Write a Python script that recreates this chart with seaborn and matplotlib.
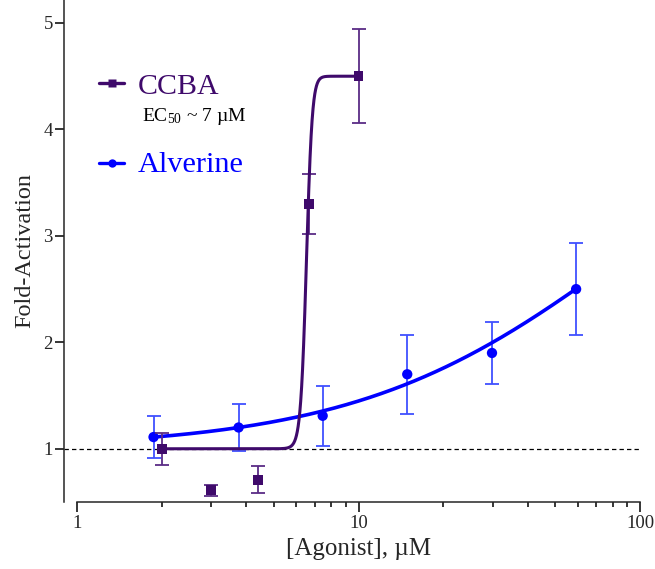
import numpy as np
import pandas as pd
import matplotlib
matplotlib.use("Agg")
import matplotlib.pyplot as plt
import seaborn as sns
from matplotlib.lines import Line2D
from matplotlib.ticker import LogLocator, NullFormatter

# ---------------- data ----------------
ccba_x = [2.0, 3.0, 4.4, 6.65, 10.0]
ccba_y = [1.0, 0.61, 0.71, 3.30, 4.50]
ccba_err = [0.15, 0.05, 0.125, 0.28, 0.44]

alv_x = [1.87, 3.75, 7.46, 14.9, 29.8, 59.3]
alv_y = [1.11, 1.20, 1.31, 1.70, 1.90, 2.50]
alv_err = [0.20, 0.22, 0.28, 0.37, 0.29, 0.43]

# fitted-curve parameters
ccba_bottom, ccba_top, ccba_x50, ccba_width = 1.0, 4.5, 6.53, 0.155   # Boltzmann fit
alv_bottom, alv_top, alv_ec50, alv_hill = 1.0, 4.69, 90.0, 0.9         # Hill fit

x_ticks = [1, 10, 100]
x_tick_labels = ["1", "10", "100"]
y_ticks = [1, 2, 3, 4, 5]

purple = "#3f0a6b"
purple_err = "#5a2c86"
blue = "#0000ff"
blue_err = "#4050ff"

# ---------------- style ----------------
sns.set_style("ticks")
plt.rcParams["font.family"] = ["Liberation Serif", "DejaVu Serif"]
plt.rcParams["mathtext.fontset"] = "custom"
plt.rcParams["mathtext.rm"] = "Liberation Serif"
plt.rcParams["mathtext.it"] = "Liberation Serif:italic"

fig = plt.figure(figsize=(6.55, 5.69), dpi=100)
ax = fig.add_axes([77 / 655, 1 - 502 / 569, 563 / 655, 502 / 569])

# fitted curves
xa = np.geomspace(alv_x[0], alv_x[-1], 400)
ya = alv_bottom + (alv_top - alv_bottom) / (1 + (alv_ec50 / xa) ** alv_hill)
xc = np.linspace(ccba_x[0], ccba_x[-1], 1500)
yc = ccba_bottom + (ccba_top - ccba_bottom) / (1 + np.exp((ccba_x50 - xc) / ccba_width))

curve_a = pd.DataFrame({"x": xa, "y": ya})
curve_c = pd.DataFrame({"x": xc, "y": yc})
pts_a = pd.DataFrame({"x": alv_x, "y": alv_y, "e": alv_err})
pts_c = pd.DataFrame({"x": ccba_x, "y": ccba_y, "e": ccba_err})

# reference line at 1
ax.axhline(1.0, xmin=-13 / 563, xmax=1.0, clip_on=False, color="black",
           lw=0.9, dashes=(3.5, 2.5), zorder=1)

# Alverine
ax.errorbar(pts_a["x"], pts_a["y"], yerr=pts_a["e"], fmt="none", ecolor=blue_err,
            elinewidth=1.3, capsize=5, capthick=1.3, zorder=2)
sns.lineplot(data=curve_a, x="x", y="y", ax=ax, color=blue, lw=2.6, zorder=3,
             estimator=None, sort=False)
sns.scatterplot(data=pts_a, x="x", y="y", ax=ax, color=blue, marker="o", s=55,
                edgecolor="none", zorder=4)

# CCBA
ax.errorbar(pts_c["x"], pts_c["y"], yerr=pts_c["e"], fmt="none", ecolor=purple_err,
            elinewidth=1.3, capsize=5, capthick=1.3, zorder=5)
sns.lineplot(data=curve_c, x="x", y="y", ax=ax, color=purple, lw=2.2, zorder=6,
             estimator=None, sort=False)
sns.scatterplot(data=pts_c, x="x", y="y", ax=ax, color=purple, marker="s", s=50,
                edgecolor="none", zorder=7)

# axes
ax.set_xscale("log")
ax.set_xlim(1, 100)
ax.set_ylim(0.5, 5.216)
ax.set_xticks(x_ticks, labels=x_tick_labels)
ax.xaxis.set_minor_locator(LogLocator(base=10, subs=np.arange(2, 10)))
ax.xaxis.set_minor_formatter(NullFormatter())
ax.set_yticks(y_ticks)
ax.set_yticklabels([str(v) for v in y_ticks])

for s in ["top", "right"]:
    ax.spines[s].set_visible(False)
ax.spines["left"].set_position(("outward", 13 * 0.72))
ax.spines["left"].set_linewidth(1.1)
ax.spines["bottom"].set_linewidth(1.1)
ax.tick_params(axis="x", which="major", length=7.5, width=1.1, labelsize=13.5, pad=2, color="black")
ax.tick_params(axis="x", which="minor", length=3.8, width=1.1, color="black")
ax.tick_params(axis="y", which="major", length=6.5, width=1.1, labelsize=13.5, pad=1.5, color="black")

ax.set_xlabel("[Agonist], µM", fontsize=18, labelpad=4)
ax.set_ylabel("Fold-Activation", fontsize=17.5, labelpad=6)

# legend (drawn manually in axes coordinates)
W, H = 563.0, 502.0
def leg_entry(y_px, color, marker, ms, label, base_px, fs):
    ax.add_line(Line2D([22 / W, 47 / W], [1 - y_px / H] * 2, transform=ax.transAxes,
                       color=color, lw=2.4, marker=None, clip_on=False))
    ax.add_line(Line2D([34.5 / W], [1 - y_px / H], transform=ax.transAxes,
                       color=color, marker=marker, ms=ms, mec="none", clip_on=False))
    ax.text(61 / W, 1 - base_px / H, label, transform=ax.transAxes, color=color,
            fontsize=fs, va="baseline", ha="left")

leg_entry(83, purple, "s", 6.0, "CCBA", 94, 21.5)
ax.text(65 / W, 1 - 121 / H, "EC$_{50}$ ~ 7 µM", transform=ax.transAxes,
        color="black", fontsize=14, va="baseline", ha="left")
leg_entry(163, blue, "o", 6.0, "Alverine", 172, 21.8)

fig.savefig("out.png", dpi=100)
